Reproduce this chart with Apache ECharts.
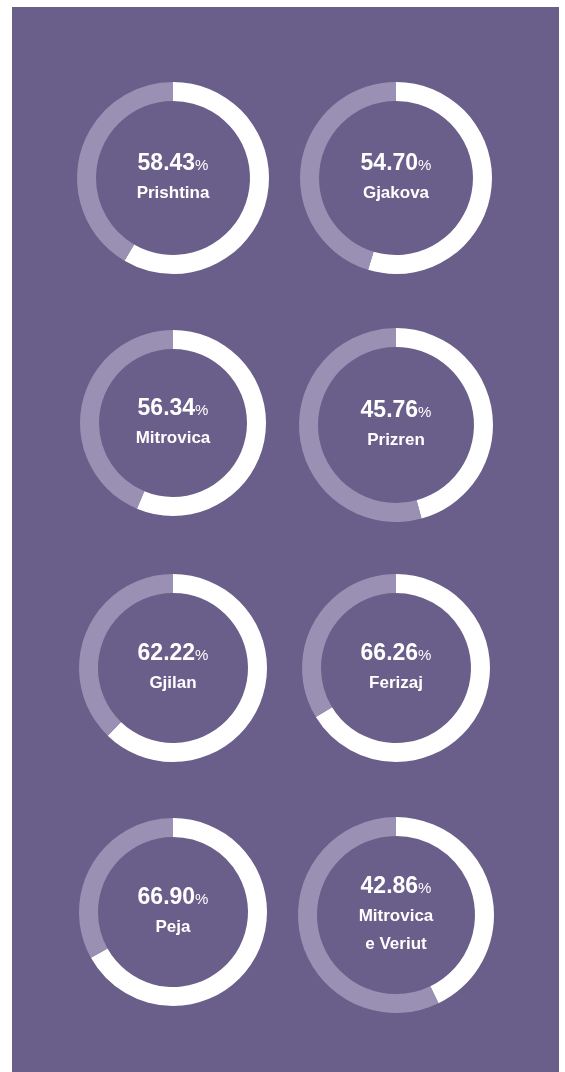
<!DOCTYPE html>
<html>
<head>
<meta charset="utf-8">
<script src="https://cdn.jsdelivr.net/npm/echarts@6/dist/echarts.min.js"></script>
<style>
  html, body { margin: 0; padding: 0; background: #ffffff; }
  #chart { width: 565px; height: 1072px; }
</style>
</head>
<body>
<div id="chart"></div>
<script>
// district names and share (%)
var districts = ['Prishtina', 'Gjakova', 'Mitrovica', 'Prizren', 'Gjilan', 'Ferizaj', 'Peja', 'Mitrovica e Veriut'];
var shares = [58.43, 54.70, 56.34, 45.76, 62.22, 66.26, 66.90, 42.86];

// layout: ring centres (px) and outer radius, two columns x four rows
var centers = [[173, 178], [396, 178], [173, 423], [396, 425], [173, 668], [396, 668], [173, 912], [396, 915]];
var outerR = [96, 96, 93, 97, 94, 94, 94, 98];
var ringW = 19;

var font = '"Liberation Sans Narrow", "Arial Narrow", "Liberation Sans", sans-serif';

var series = districts.map(function (name, i) {
  return {
    type: 'pie',
    center: centers[i],
    radius: [outerR[i] - ringW, outerR[i]],
    startAngle: 90,
    clockwise: true,
    silent: true,
    animation: false,
    labelLine: { show: false },
    emphasis: { disabled: true },
    data: [
      {
        value: shares[i],
        name: name,
        itemStyle: { color: '#ffffff' },
        label: {
          show: true,
          position: 'center',
          formatter: function () {
            // long name goes on two lines
            var lbl = name.replace(' e ', '\ne ');
            var lines = lbl.split('\n').map(function (l) { return '{nm|' + l + '}'; });
            return '{val|' + shares[i].toFixed(2) + '}{pct|%}\n' + lines.join('\n');
          },
          rich: {
            val: { fontFamily: font, fontSize: 23, fontWeight: 'bold', color: '#fff', lineHeight: 31 },
            pct: { fontFamily: font, fontSize: 15, color: '#fff', lineHeight: 31, padding: [3, 0, 0, 0] },
            nm: { fontFamily: font, fontSize: 17, fontWeight: 'bold', color: '#fff', lineHeight: 28 }
          }
        }
      },
      {
        value: 100 - shares[i],
        name: 'rest',
        itemStyle: { color: '#9a90b3' },
        label: { show: false }
      }
    ]
  };
});

var myChart = echarts.init(document.getElementById('chart'));
myChart.setOption({
  backgroundColor: '#ffffff',
  graphic: [{
    type: 'rect',
    z: -10,
    shape: { x: 12, y: 7, width: 547, height: 1065 },
    style: { fill: '#6a5e8a' }
  }],
  series: series
});
</script>
</body>
</html>
